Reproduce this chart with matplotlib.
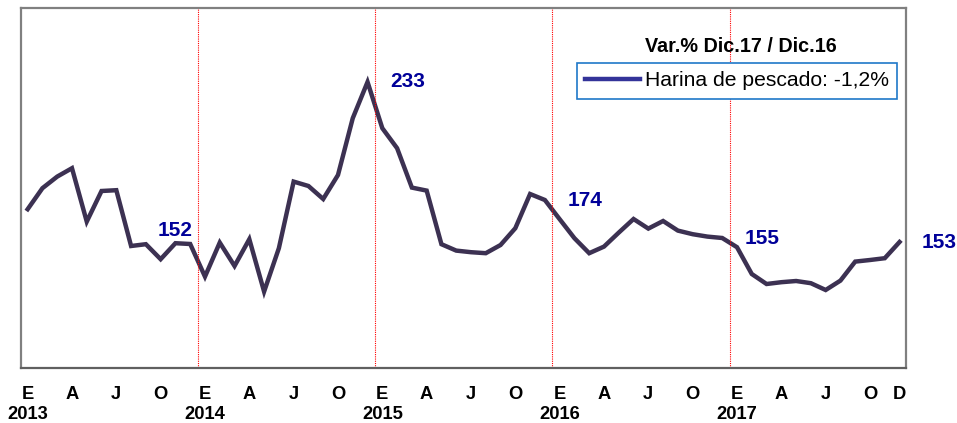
import matplotlib.pyplot as plt
import numpy as np

plt.rcParams['font.family'] = ['Liberation Sans', 'DejaVu Sans']

# Precio harina de pescado, mensual E-2013 .. D-2017
precio = [169.4, 179.9, 185.7, 189.9, 163.2, 178.5, 178.9, 151.0, 151.9, 144.4, 152.4, 152.0,
          135.7, 152.7, 141.0, 154.4, 128.2, 149.9, 183.2, 181.0, 174.5, 186.5, 214.9, 233.0,
          209.9, 199.9, 180.2, 178.7, 151.9, 148.7, 147.9, 147.4, 151.5, 159.9, 177.0, 174.0,
          164.4, 154.9, 147.4, 150.7, 157.7, 164.5, 159.7, 163.5, 158.7, 156.9, 155.7, 155.0,
          150.4, 137.0, 132.0, 132.9, 133.5, 132.4, 129.0, 133.7, 143.2, 144.0, 144.9, 153.0]

anios = ["2013", "2014", "2015", "2016", "2017"]
meses_tick = ["E", "A", "J", "O"]

# etiquetas de valor: indice, texto
etiq_idx = [11, 23, 35, 47, 59]
etiq_txt = ["152", "233", "174", "155", "153"]

x = np.arange(len(precio))

fig = plt.figure(figsize=(9.57, 4.23), dpi=100)
ax = fig.add_axes([20.7 / 957, 1 - 368 / 423, 885.5 / 957, 360 / 423])

ax.plot(x, precio, color="#3C3152", lw=3.2, solid_joinstyle="miter",
        label="Harina de pescado: -1,2%")

# separadores de anio
for k in range(1, len(anios)):
    ax.axvline(12 * k - 0.5, color="red", lw=0.8, ls=(0, (1, 1)))

ax.set_xlim(-0.47, 59.45)
ax.set_ylim(90, 270)
ax.set_yticks([])

ticks = []
labels = []
for i, a in enumerate(anios):
    for j, m in enumerate(meses_tick):
        ticks.append(12 * i + 3 * j)
        labels.append(m + "\n" + a if j == 0 else m + "\n")
ticks.append(59)
labels.append("D\n")
ax.set_xticks(ticks)
ax.set_xticklabels(labels, fontsize=13.2, fontweight="bold", linespacing=1.2)
ax.tick_params(axis="x", length=0, pad=13)

for s in ax.spines.values():
    s.set_color("#808080")
    s.set_linewidth(1.6)
ax.spines["bottom"].set_color("#606060")

for i, t in zip(etiq_idx, etiq_txt):
    if i == 11:
        off = (-15, 14)
    else:
        off = (40, 0)
    ax.annotate(t, (x[i], precio[i]), xytext=off, textcoords="offset pixels",
                ha="center", va="center", fontsize=15, fontweight="bold",
                color="#000099")

fig.text(741 / 957, 1 - 47 / 423, "Var.% Dic.17 / Dic.16", ha="center", va="center",
         fontsize=14.2, fontweight="bold")

h, = ax.plot([], [], color="#333399", lw=3.2)
leg = ax.legend([h], ["Harina de pescado: -1,2%"], loc="upper right",
                bbox_to_anchor=(897 / 957, 1 - 63 / 423), bbox_transform=fig.transFigure,
                fontsize=15.2, handlelength=2.6, handletextpad=0.2, borderpad=0.4,
                borderaxespad=0, fancybox=False, framealpha=1)
leg.get_frame().set_edgecolor("#1F78C8")
leg.get_frame().set_linewidth(1.2)

fig.savefig("out.png", dpi=100)
